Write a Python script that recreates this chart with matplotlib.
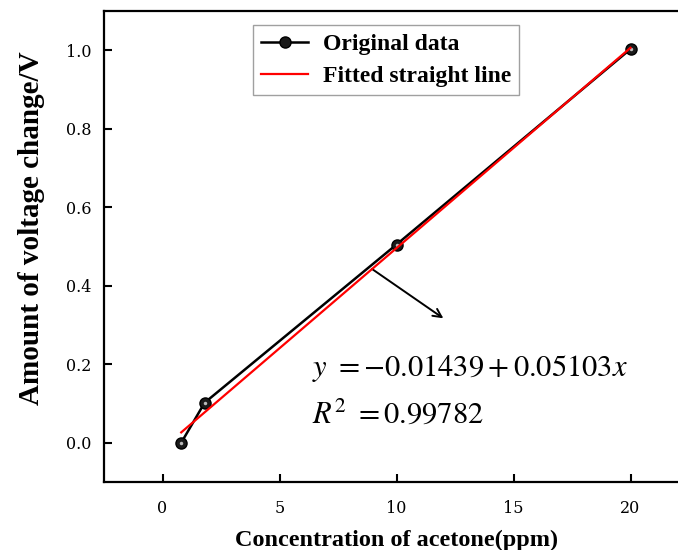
import matplotlib
matplotlib.use("Agg")
import matplotlib.pyplot as plt
import numpy as np

# Data
conc = [0.8, 1.8, 10, 20]
voltage = [0.0, 0.102, 0.505, 1.003]
intercept = -0.01439
slope = 0.05103
fit_x = [0.8, 20]
fit_y = [intercept + slope * x for x in fit_x]
xticks = [0, 5, 10, 15, 20]
yticks = [0.0, 0.2, 0.4, 0.6, 0.8, 1.0]
ytick_labels = ["0.0", "0.2", "0.4", "0.6", "0.8", "1.0"]

plt.rcParams['font.family'] = ['Liberation Serif', 'DejaVu Serif']
plt.rcParams['mathtext.fontset'] = 'stix'

fig = plt.figure(figsize=(6.78, 5.5), dpi=100)
ax = fig.add_axes([104/678, 68/550, 585/678, 471/550])

ax.plot(conc, voltage, color='black', lw=1.8, marker='o', ms=8,
        markerfacecolor='#1a1a1a', markeredgecolor='black', zorder=3,
        label='Original data')
ax.plot(conc, voltage, linestyle='none', marker='o', ms=2.5,
        markerfacecolor='#bbbbbb', markeredgecolor='none', zorder=4)
ax.plot(fit_x, fit_y, color='#ff0000', lw=1.6, zorder=4, label='Fitted straight line')

ax.set_xlim(-2.5, 22.5)
ax.set_ylim(-0.1, 1.1)
ax.set_xticks(xticks)
ax.set_yticks(yticks)
ax.set_yticklabels(ytick_labels)
ax.tick_params(direction='in', length=6, width=1.5, labelsize=11.5, pad=9)
ax.tick_params(axis='x', pad=13)
for lbl in ax.get_xticklabels() + ax.get_yticklabels():
    lbl.set_fontfamily('DejaVu Serif')
for s in ax.spines.values():
    s.set_linewidth(1.6)

ax.set_xlabel('Concentration of acetone(ppm)', fontsize=17.5, fontweight='bold', labelpad=9)
ax.set_ylabel('Amount of voltage change/V', fontsize=21, fontweight='bold')
ax.yaxis.set_label_coords(-0.1, 0.539)

ax.annotate('', xy=(12.1, 0.313), xytext=(8.85, 0.447),
            arrowprops=dict(arrowstyle='->', color='black', lw=1.4, mutation_scale=15))

ax.text(6.4, 0.19, r'$y\ =-0.01439+0.05103x$', fontsize=22, va='center', ha='left')
ax.text(6.4, 0.07, r'$R^2\ =0.99782$', fontsize=22, va='center', ha='left')

leg = ax.legend(loc='upper left', bbox_to_anchor=(149/585, 1 - 14/471),
                prop={'weight': 'bold', 'size': 17}, frameon=True, fancybox=False,
                edgecolor='#888888', handlelength=2.0, borderpad=0.35, labelspacing=0.45,
                handletextpad=0.6, borderaxespad=0)
leg.get_frame().set_linewidth(1.0)

fig.savefig('out.png', dpi=100)
